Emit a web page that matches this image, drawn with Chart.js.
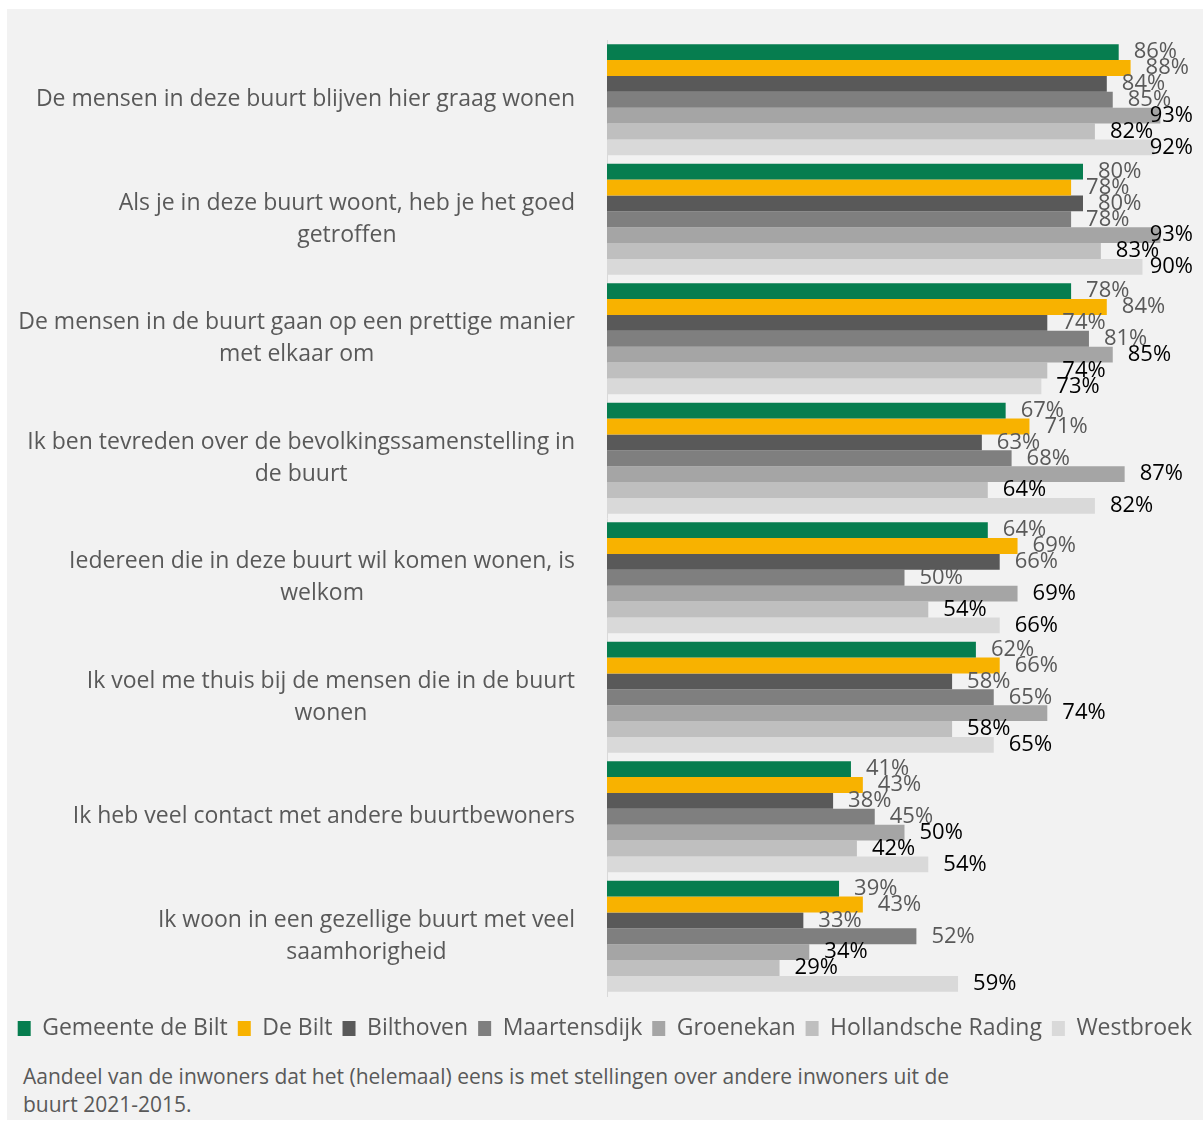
<!DOCTYPE html>
<html>
<head>
<meta charset="utf-8">
<script src="https://cdn.jsdelivr.net/npm/chart.js@4/dist/chart.umd.min.js"></script>
<style>
  html, body { margin: 0; padding: 0; background: #ffffff; }
  body { width: 1203px; height: 1122px; position: relative; overflow: hidden; }
  #panel { position: absolute; left: 7px; top: 9px; width: 1196px; height: 1111px; background: #f2f2f2; }
  #wrap { position: absolute; left: 0; top: 0; width: 1203px; height: 1052px; }
  #caption { position: absolute; left: 23px; top: 1062px; font-family: "Open Sans", sans-serif; font-size: 21px; line-height: 28px; color: #595959; }
</style>
</head>
<body>
<div id="panel"></div>
<div id="wrap"><canvas id="c"></canvas></div>
<div id="caption">Aandeel van de inwoners dat het (helemaal) eens is met stellingen over andere inwoners uit de<br>buurt 2021-2015.</div>
<script>
const categories = [
  ["De mensen in deze buurt blijven hier graag wonen"],
  ["Als je in deze buurt woont, heb je het goed", "getroffen"],
  ["De mensen in de buurt gaan op een prettige manier", "met elkaar om"],
  ["Ik ben tevreden over de bevolkingssamenstelling in", "de buurt"],
  ["Iedereen die in deze buurt wil komen wonen, is", "welkom"],
  ["Ik voel me thuis bij de mensen die in de buurt", "wonen"],
  ["Ik heb veel contact met andere buurtbewoners"],
  ["Ik woon in een gezellige buurt met veel", "saamhorigheid"]
];
const seriesNames = ["Gemeente de Bilt", "De Bilt", "Bilthoven", "Maartensdijk", "Groenekan", "Hollandsche Rading", "Westbroek"];
const gemeenteDeBilt   = [86, 80, 78, 67, 64, 62, 41, 39];
const deBilt           = [88, 78, 84, 71, 69, 66, 43, 43];
const bilthoven        = [84, 80, 74, 63, 66, 58, 38, 33];
const maartensdijk     = [85, 78, 81, 68, 50, 65, 45, 52];
const groenekan        = [93, 93, 85, 87, 69, 74, 50, 34];
const hollandscheRading= [82, 83, 74, 64, 54, 58, 42, 29];
const westbroek        = [92, 90, 73, 82, 66, 65, 54, 59];
const seriesValues = [gemeenteDeBilt, deBilt, bilthoven, maartensdijk, groenekan, hollandscheRading, westbroek];

const colors = ["#067d4f", "#f8b200", "#595959", "#7f7f7f", "#a5a5a5", "#bfbfbf", "#d9d9d9"];
const labelColors = ["#595959", "#595959", "#595959", "#595959", "#000000", "#000000", "#000000"];
const FONT = '"Open Sans", sans-serif';

const categoryLabelPlugin = {
  id: 'catLabels',
  afterDraw(chart) {
    const ctx = chart.ctx;
    const y = chart.scales.y;
    ctx.save();
    ctx.font = '23px ' + FONT;
    ctx.fillStyle = '#595959';
    ctx.textAlign = 'center';
    ctx.textBaseline = 'middle';
    const rightEdge = 575;
    const lh = 32;
    categories.forEach((lines, i) => {
      const cy = y.getPixelForValue(i);
      const widest = Math.max(...lines.map(l => ctx.measureText(l).width));
      const cx = rightEdge - widest / 2;
      const start = cy - (lines.length - 1) * lh / 2;
      lines.forEach((l, k) => ctx.fillText(l, cx, start + k * lh));
    });
    ctx.restore();
  }
};

const valueLabelPlugin = {
  id: 'valLabels',
  afterDatasetsDraw(chart) {
    const ctx = chart.ctx;
    ctx.save();
    ctx.font = '22px ' + FONT;
    ctx.textAlign = 'left';
    ctx.textBaseline = 'middle';
    chart.data.datasets.forEach((ds, di) => {
      const meta = chart.getDatasetMeta(di);
      ctx.fillStyle = labelColors[di];
      meta.data.forEach((bar, i) => {
        const txt = ds.data[i] + '%';
        const w = ctx.measureText(txt).width;
        let x = bar.x + 15;
        if (x + w > 1193) x = 1193 - w;
        ctx.fillText(txt, x, bar.y);
      });
    });
    ctx.restore();
  }
};

new Chart(document.getElementById('c'), {
  type: 'bar',
  data: {
    labels: categories,
    datasets: seriesNames.map((n, i) => ({
      label: n,
      data: seriesValues[i],
      backgroundColor: colors[i],
      borderWidth: 0,
      categoryPercentage: 0.93,
      barPercentage: 1.0
    }))
  },
  options: {
    indexAxis: 'y',
    responsive: true,
    maintainAspectRatio: false,
    animation: false,
    layout: { padding: { top: 40, right: 1, left: 0, bottom: 2 } },
    scales: {
      x: {
        min: 0, max: 100,
        grid: { display: false },
        border: { display: false },
        ticks: { display: false },
        afterFit(s) { s.height = 11; }
      },
      y: {
        grid: { display: false },
        border: { display: true, color: '#d9d9d9', width: 1 },
        ticks: { display: false },
        afterFit(s) { s.width = 607; }
      }
    },
    plugins: {
      tooltip: { enabled: false },
      legend: {
        position: 'bottom',
        align: 'end',
        labels: {
          boxWidth: 13,
          boxHeight: 15,
          padding: 10,
          color: '#595959',
          font: { family: FONT, size: 23 }
        }
      }
    }
  },
  plugins: [categoryLabelPlugin, valueLabelPlugin]
});
</script>
</body>
</html>
